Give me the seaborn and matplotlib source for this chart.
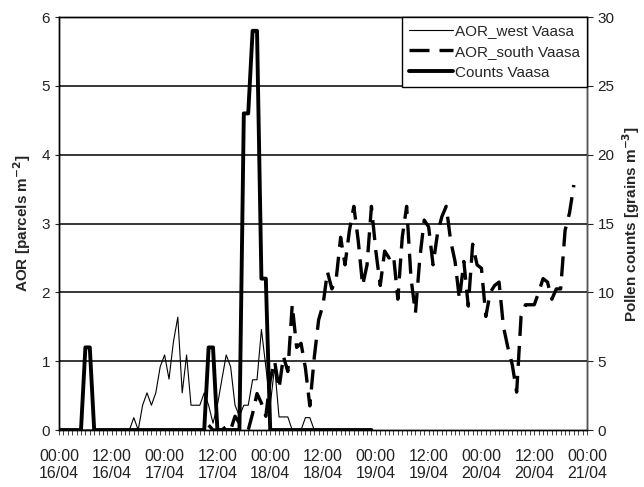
import numpy as np
import pandas as pd
import matplotlib
matplotlib.use('Agg')
import matplotlib.pyplot as plt
import matplotlib.dates as mdates
import seaborn as sns

sns.set_style('white')
plt.rcParams['font.family'] = ['Liberation Sans', 'DejaVu Sans']

# hourly data, starting 16/04 00:00
aor_west = [0, 0, 0, 0, 0, 0, 0, 0, 0, 0, 0, 0, 0, 0, 0, 0,
            0, 0.18, 0, 0.36, 0.54, 0.36, 0.54, 0.92, 1.09, 0.74, 1.28, 1.64,
            0.54, 1.09, 0.36, 0.36, 0.36, 0.54, 0.36, 0.1, 0.36, 0.73, 1.09, 0.92,
            0.36, 0.2, 0.36, 0.36, 0.73, 0.73, 1.46, 0.92, 0.36, 0.92, 0.19, 0.19,
            0.19, 0, 0, 0, 0.18, 0.18, 0, 0, 0, 0, 0, 0, 0, 0,
            0, 0, 0, 0, 0, 0]

counts = [0, 0, 0, 0, 0, 0, 6, 6, 0, 0, 0, 0, 0, 0, 0, 0,
          0, 0, 0, 0, 0, 0, 0, 0, 0, 0, 0, 0, 0, 0, 0, 0,
          0, 0, 6, 6, 0, 0, 0, 0, 0, 0, 23, 23, 29, 29, 11, 11,
          0, 0, 0, 0, 0, 0, 0, 0, 0, 0, 0, 0, 0, 0, 0, 0,
          0, 0, 0, 0, 0, 0, 0, 0]

# AOR_south starts at 17/04 10:00
south_start_hour = 34
aor_south = [0.07, 0.0, 0.0, 0.0, 0.05, 0.0, 0.2, 0.1, 0.05, 0.0,
             0.24, 0.53, 0.39, 0.2, 0.73, 1.0, 0.6, 1.07, 0.85, 1.82,
             1.2, 1.26, 0.9, 0.35, 1.05, 1.6, 1.82, 2.3, 2.05, 2.2,
             2.8, 2.4, 2.9, 3.25, 2.75, 2.1, 2.4, 3.25, 2.6, 2.1,
             2.6, 2.5, 2.55, 1.9, 2.8, 3.25, 2.2, 1.7, 2.5, 3.05,
             2.95, 2.4, 2.85, 3.1, 3.25, 2.75, 2.45, 1.9, 2.45, 1.8,
             2.7, 2.4, 2.35, 1.65, 2.0, 2.1, 2.15, 1.5, 1.2, 0.95,
             0.55, 1.65, 1.82, 1.82, 1.82, 2.0, 2.2, 2.15, 1.9, 2.05,
             2.05, 2.9, 3.15, 3.56]

start = pd.Timestamp('2006-04-16 00:00')
t_west = pd.date_range(start, periods=len(aor_west), freq='h')
t_counts = pd.date_range(start, periods=len(counts), freq='h')
t_south = pd.date_range(start + pd.Timedelta(hours=south_start_hour), periods=len(aor_south), freq='h')

fig = plt.figure(figsize=(6.44, 4.87), dpi=100)
ax = fig.add_axes([0.0916, 0.117, 0.82, 0.848])
ax2 = ax.twinx()

sns.lineplot(x=t_west, y=aor_west, ax=ax, color='black', lw=0.8, label='AOR_west Vaasa', legend=False)
sns.lineplot(x=t_south, y=aor_south, ax=ax, color='black', lw=2.4, linestyle=(0, (6, 3)),
             label='AOR_south Vaasa', legend=False)
sns.lineplot(x=t_counts, y=counts, ax=ax2, color='black', lw=2.8, label='Counts Vaasa', legend=False)
if ax.get_legend():
    ax.get_legend().remove()

ax.set_ylim(0, 6)
ax2.set_ylim(0, 30)
ax.set_xlim(start, start + pd.Timedelta(days=5))
ax.set_yticks(range(0, 7))
ax2.set_yticks(range(0, 31, 5))

for y in range(1, 6):
    ax.axhline(y, color='black', lw=1.1, zorder=0)

ax.xaxis.set_major_locator(mdates.HourLocator(byhour=[0, 12]))
ax.xaxis.set_major_formatter(mdates.DateFormatter('%H:%M\n%d/%m'))
ax.xaxis.set_minor_locator(mdates.HourLocator(interval=1))

ax.tick_params(axis='x', which='both', direction='out', length=3.5, width=0.7, colors='#444444',
               labelcolor='#222222', labelsize=11.5, bottom=True, pad=10)
ax.tick_params(axis='y', direction='out', length=3, labelsize=11, left=True, labelcolor='#222222')
ax2.tick_params(axis='y', direction='out', length=4, labelsize=11, right=True, labelcolor='#222222')

for a in (ax, ax2):
    for s in a.spines.values():
        s.set_color('black')
        s.set_linewidth(1.0)
ax2.spines['right'].set_color('#555555')

ax.set_ylabel('AOR [parcels m$^{\\mathbf{-2}}$]', fontsize=11, fontweight='bold', labelpad=6)
ax2.set_ylabel('Pollen counts [grains m$^{\\mathbf{-3}}$]', fontsize=11, fontweight='bold', labelpad=4)
ax.set_xlabel('')

h1, l1 = ax.get_legend_handles_labels()
h2, l2 = ax2.get_legend_handles_labels()
leg = ax2.legend(h1 + h2, l1 + l2, loc='upper right', fontsize=11, frameon=True, fancybox=False,
                 edgecolor='black', borderaxespad=0, handlelength=2.9, handletextpad=0.15,
                 labelspacing=0.45, borderpad=0.45)
leg.get_frame().set_linewidth(1.0)
leg.get_frame().set_alpha(1)

fig.savefig('out.png', dpi=100)
